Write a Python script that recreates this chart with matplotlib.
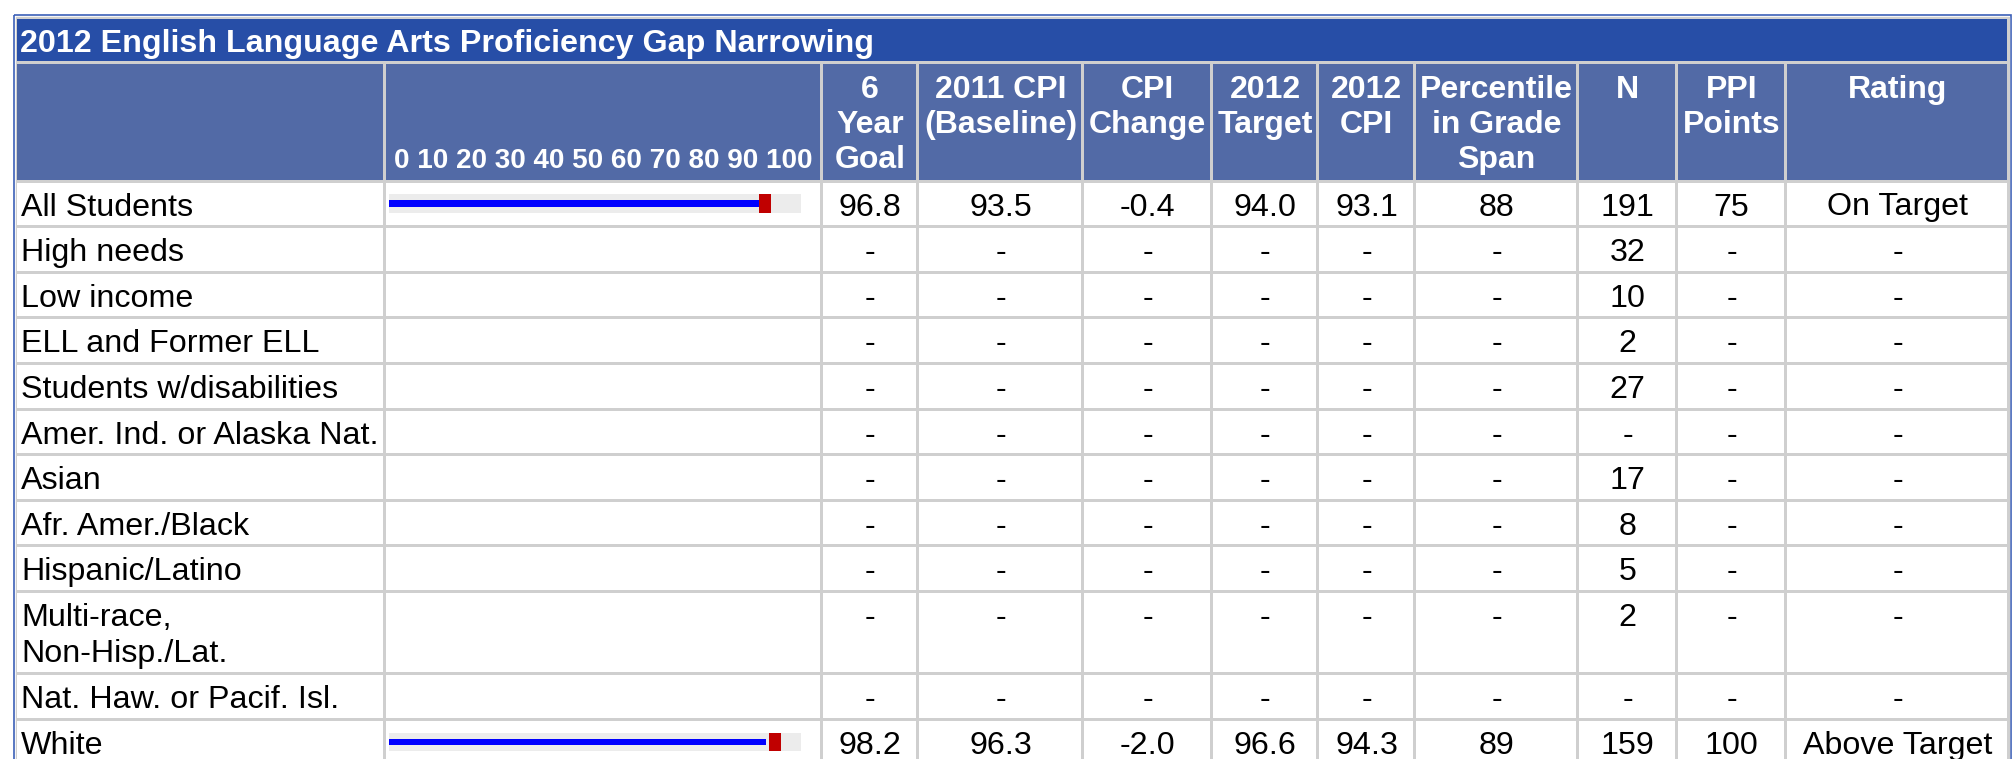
import matplotlib.pyplot as plt
from matplotlib.patches import Rectangle

plt.rcParams['font.family'] = ['Liberation Sans', 'DejaVu Sans']

# Table content
title = "2012 English Language Arts Proficiency Gap Narrowing"
scale_ticks = [0, 10, 20, 30, 40, 50, 60, 70, 80, 90, 100]
col_headers = ["6\nYear\nGoal", "2011 CPI\n(Baseline)", "CPI\nChange", "2012\nTarget",
               "2012\nCPI", "Percentile\nin Grade\nSpan", "N", "PPI\nPoints", "Rating"]

groups = ["All Students", "High needs", "Low income", "ELL and Former ELL",
          "Students w/disabilities", "Amer. Ind. or Alaska Nat.", "Asian",
          "Afr. Amer./Black", "Hispanic/Latino", "Multi-race,\nNon-Hisp./Lat.",
          "Nat. Haw. or Pacif. Isl.", "White"]
goal_6yr    = [96.8, None, None, None, None, None, None, None, None, None, None, 98.2]
cpi_2011    = [93.5, None, None, None, None, None, None, None, None, None, None, 96.3]
cpi_change  = [-0.4, None, None, None, None, None, None, None, None, None, None, -2.0]
target_2012 = [94.0, None, None, None, None, None, None, None, None, None, None, 96.6]
cpi_2012    = [93.1, None, None, None, None, None, None, None, None, None, None, 94.3]
percentile  = [88, None, None, None, None, None, None, None, None, None, None, 89]
n_students  = [191, 32, 10, 2, 27, None, 17, 8, 5, 2, None, 159]
ppi_points  = [75, None, None, None, None, None, None, None, None, None, None, 100]
rating      = ["On Target", None, None, None, None, None, None, None, None, None, None,
               "Above Target"]


def fmt(v, dec=None):
    if v is None:
        return "-"
    return f"{v:.{dec}f}" if dec is not None else str(v)


W, H = 2015, 759
fig = plt.figure(figsize=(W / 100, H / 100), dpi=100)
ax = fig.add_axes([0, 0, 1, 1])
ax.set_xlim(0, W)
ax.set_ylim(H, 0)
ax.axis("off")

title_bg = "#274ea7"
head_bg = "#526aa6"
grid_c = "#cfcfcf"
fs = 23.2
fs_head = 23.0

col_edges = [16, 385, 822, 918, 1083, 1212, 1318, 1415, 1578, 1677, 1786, 2009]
title_top, head_top, body_top = 17, 62, 181

# outer frame + grid colour underneath the cells
ax.add_patch(Rectangle((14, 15), 1997, 900, fill=False, edgecolor="#3c60b8", lw=1.2))
ax.add_patch(Rectangle((16, 17), 1993, 900, color=grid_c))


def cell(x0, x1, y0, y1, color):
    ax.add_patch(Rectangle((x0 + 1.5, y0 + 1.5), x1 - x0 - 3, y1 - y0 - 3, color=color, lw=0))


# title band
cell(col_edges[0], col_edges[-1], title_top, head_top, title_bg)
ax.text(20, 52, title, color="white", fontsize=fs, fontweight="bold", ha="left", va="baseline")

# header row
for i in range(len(col_edges) - 1):
    cell(col_edges[i], col_edges[i + 1], head_top, body_top, head_bg)
ax.text(394, 168, " ".join(str(t) for t in scale_ticks), color="white", fontsize=20.1,
        fontweight="bold", ha="left", va="baseline")
for j, hdr in enumerate(col_headers):
    xc = (col_edges[j + 2] + col_edges[j + 3]) / 2
    for k, line in enumerate(hdr.split("\n")):
        ax.text(xc, 98 + 35 * k, line, color="white", fontsize=fs_head, fontweight="bold",
                ha="center", va="baseline")

# body rows
row_tops, row_bots = [], []
y = body_top
for g in groups:
    h = 45.6 + 36.5 * g.count("\n")
    row_tops.append(y)
    row_bots.append(y + h)
    y += h

for r, g in enumerate(groups):
    y0, y1 = row_tops[r], row_bots[r]
    for i in range(len(col_edges) - 1):
        cell(col_edges[i], col_edges[i + 1], y0, y1, "white")
    base = y0 + 34.5
    for k, line in enumerate(g.split("\n")):
        ax.text(21, base + 36.5 * k, line, fontsize=fs, ha="left", va="baseline")
    vals = [fmt(goal_6yr[r], 1), fmt(cpi_2011[r], 1), fmt(cpi_change[r], 1),
            fmt(target_2012[r], 1), fmt(cpi_2012[r], 1), fmt(percentile[r]),
            fmt(n_students[r]), fmt(ppi_points[r]), fmt(rating[r])]
    for j, v in enumerate(vals):
        xc = (col_edges[j + 2] + col_edges[j + 3]) / 2
        ax.text(xc, base, v, fontsize=fs, ha="center", va="baseline")

# CPI bars: 0-100 scale inside the second column
bx = fig.add_axes([389 / W, 0, 400 / W, 1])
bx.set_xlim(0, 100)
bx.set_ylim(H, 0)
bx.axis("off")
for r in range(len(groups)):
    if cpi_2012[r] is None:
        continue
    yc = (row_tops[r] + row_bots[r]) / 2
    bx.barh(yc, 103, height=18.7, color="#ececec", clip_on=False)
    bx.barh(yc, cpi_2012[r], height=6.7, color="#0000ff", clip_on=False)
    bx.barh(yc, 3, left=target_2012[r] - 1.5, height=18.7, color="#c00000", clip_on=False)

fig.savefig("out.png", dpi=100)
